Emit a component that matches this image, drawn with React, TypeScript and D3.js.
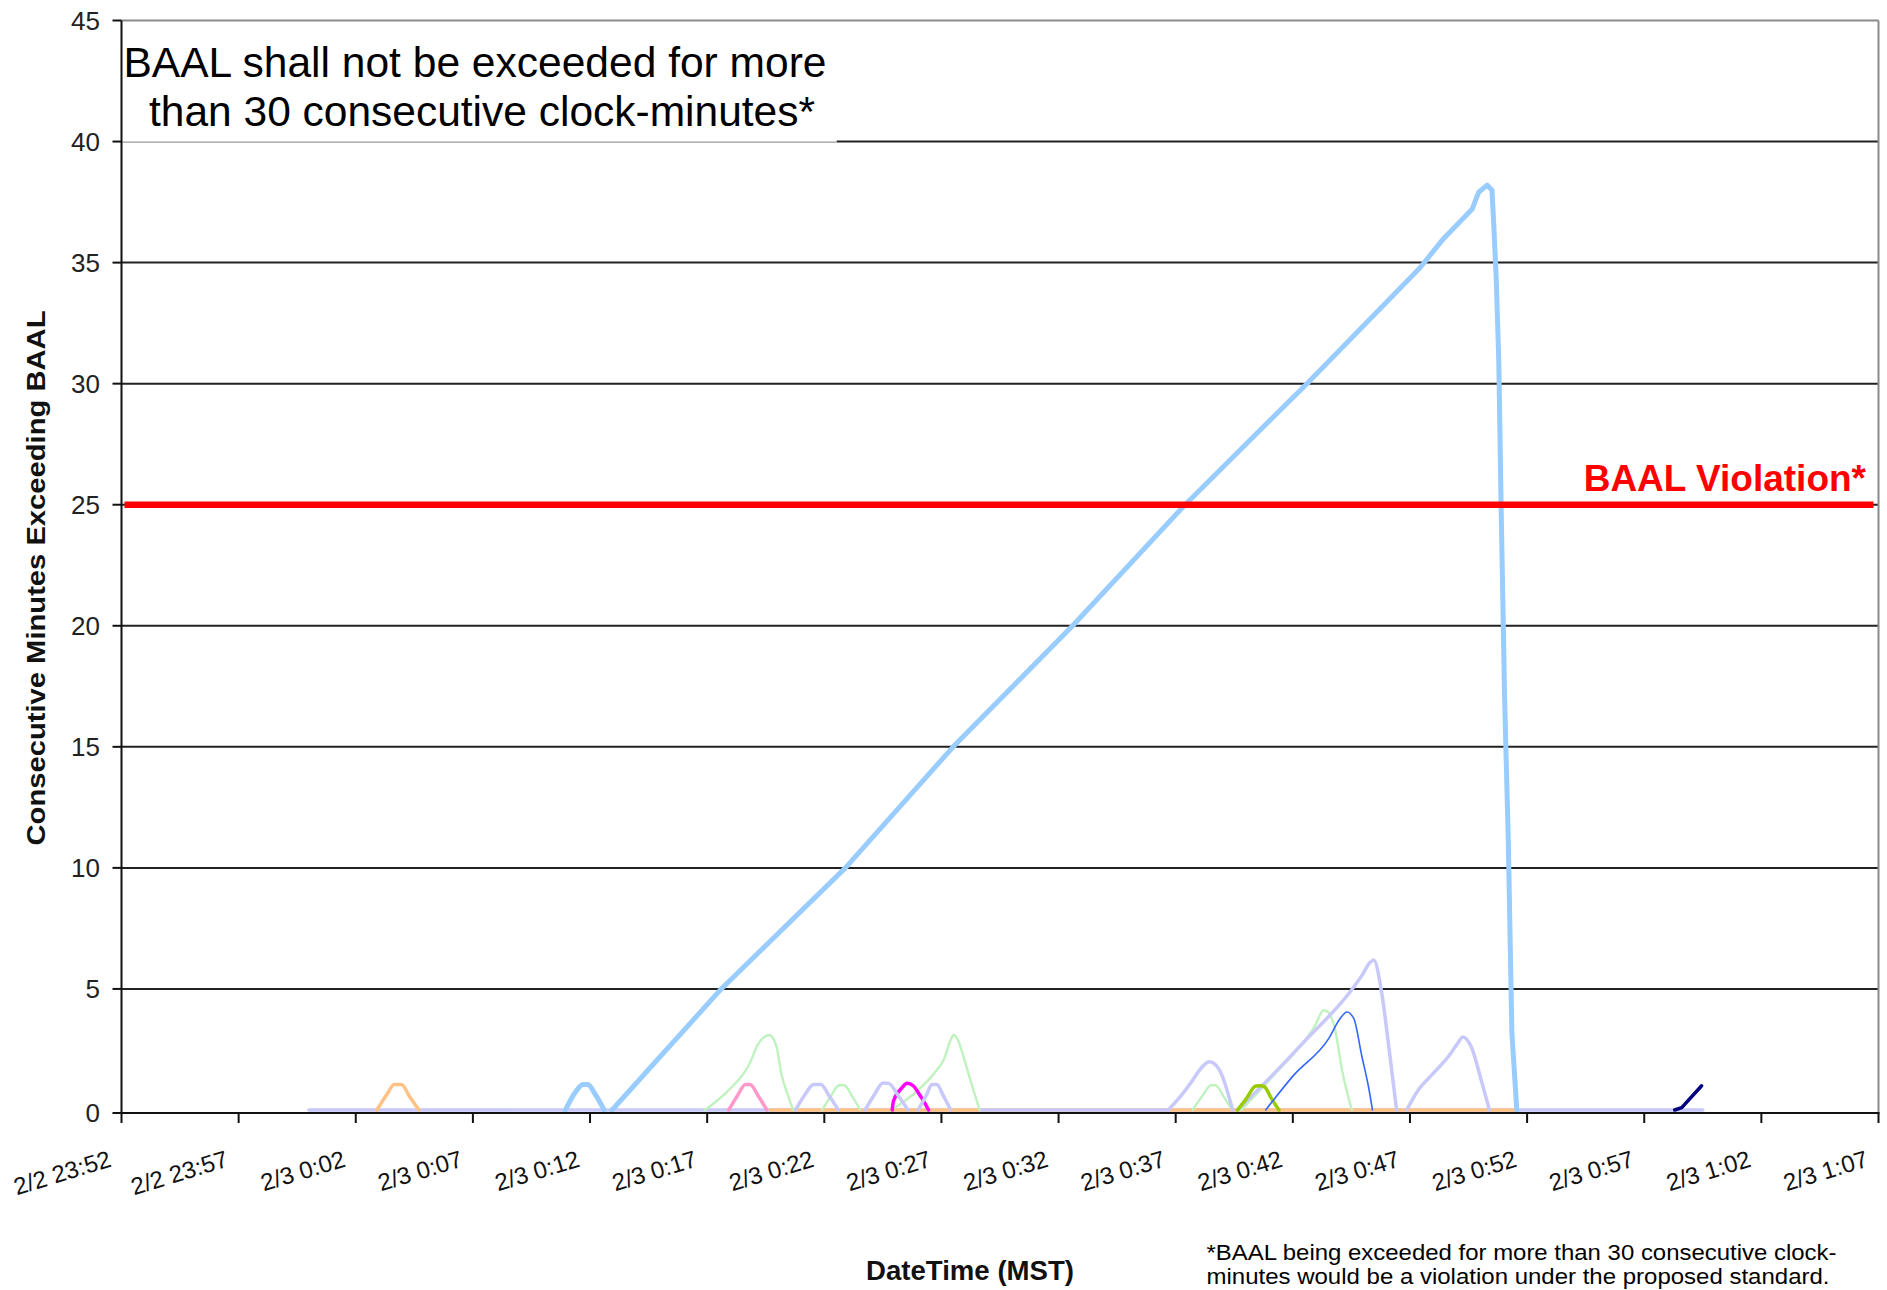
import React from "react";
import * as d3 from "d3";

type Pt = [number, number];

// time values are minutes after midnight of 2/3 (negative = 2/2)
const xTickMinutes = [-8, -3, 2, 7, 12, 17, 22, 27, 32, 37, 42, 47, 52, 57, 62, 67];
const xTickLabels = [
  "2/2 23:52", "2/2 23:57", "2/3 0:02", "2/3 0:07", "2/3 0:12", "2/3 0:17",
  "2/3 0:22", "2/3 0:27", "2/3 0:32", "2/3 0:37", "2/3 0:42", "2/3 0:47",
  "2/3 0:52", "2/3 0:57", "2/3 1:02", "2/3 1:07",
];
const yTicks = [0, 5, 10, 15, 20, 25, 30, 35, 40, 45];
const baalLimit = 25;

const lavenderBase: Pt[] = [[0, 0], [59.5, 0]];
const orangeBase: Pt[] = [[19.7, 0], [51.5, 0]];
const lavenderBase2: Pt[] = [[28.65, 0], [36.6, 0]];

const orangeBump: Pt[] = [[2.9, 0], [3.3, 0.6], [3.65, 1.05], [3.95, 1.05], [4.3, 0.55], [4.7, 0]];
const lightBlueBump: Pt[] = [[10.95, 0], [11.35, 0.7], [11.7, 1.05], [11.9, 1.05], [12.25, 0.6], [12.6, 0]];
const lightBlueRamp: Pt[] = [
  [12.94, 0], [17.6, 5], [22.9, 10], [27.5, 15], [32.6, 20], [37.4, 25], [42.6, 30],
  [47.44, 34.8], [48.44, 36], [49.65, 37.2], [49.93, 37.9], [50.29, 38.2], [50.5, 38],
  [50.57, 36.7], [50.68, 34.4], [50.79, 31], [50.89, 25], [51.04, 17], [51.2, 11],
  [51.35, 3.2], [51.56, 0],
];
const green1: Pt[] = [[16.9, 0], [17.92, 0.82], [18.83, 1.95], [19.14, 2.66], [19.5, 3.05], [19.65, 3.1], [19.95, 2.66], [20.16, 1.53], [20.47, 0.54], [20.67, 0]];
const green2: Pt[] = [[21.9, 0], [22.3, 0.6], [22.62, 1.02], [22.85, 1.02], [23.2, 0.55], [23.53, 0]];
const green3: Pt[] = [[24.86, 0], [25.98, 0.8], [26.7, 1.53], [27.11, 2.1], [27.4, 2.9], [27.52, 3.1], [27.7, 2.9], [27.93, 2.24], [28.23, 1.25], [28.63, 0]];
const green4: Pt[] = [[37.72, 0], [38.15, 0.6], [38.5, 1.02], [38.7, 1.02], [39.05, 0.55], [39.4, 0]];
const green5: Pt[] = [[39.8, 0], [41.2, 1.45], [42.5, 2.85], [42.9, 3.4], [43.32, 4.12], [43.5, 4.05], [43.81, 3.3], [44.1, 1.65], [44.52, 0]];
const pinkBump: Pt[] = [[17.92, 0], [18.3, 0.6], [18.63, 1.05], [18.83, 1.05], [19.2, 0.55], [19.55, 0]];
const magentaBump: Pt[] = [[24.9, 0], [24.95, 0.36], [25.31, 0.91], [25.53, 1.11], [25.81, 0.99], [26.02, 0.7], [26.31, 0.25], [26.45, 0]];
const lavender1: Pt[] = [[20.77, 0], [21.15, 0.6], [21.55, 1.05], [21.85, 1.05], [22.2, 0.6], [22.6, 0]];
const lavender2: Pt[] = [[23.74, 0], [24.15, 0.65], [24.5, 1.12], [24.75, 1.1], [25.15, 0.6], [25.58, 0]];
const lavender3: Pt[] = [[26.0, 0], [26.35, 0.6], [26.6, 1.05], [26.8, 1.05], [27.1, 0.55], [27.4, 0]];
const lavender4: Pt[] = [[36.68, 0], [37.31, 0.69], [37.73, 1.24], [38.02, 1.65], [38.44, 1.99], [38.87, 1.65], [39.43, 0]];
const lavender5: Pt[] = [[39.64, 0], [41.13, 1.44], [42.54, 2.88], [44.38, 4.8], [44.95, 5.56], [45.3, 6.1], [45.45, 6.2], [45.8, 4.8], [46.08, 2.75], [46.43, 0]];
const lavender6: Pt[] = [[46.86, 0], [47.35, 0.82], [47.92, 1.44], [48.63, 2.2], [49.0, 2.7], [49.26, 3.02], [49.62, 2.6], [50.04, 1.24], [50.39, 0]];
const oliveBump: Pt[] = [[39.64, 0], [40.0, 0.45], [40.42, 0.99], [40.6, 1.0], [40.77, 0.97], [41.1, 0.45], [41.41, 0]];
const blueThin: Pt[] = [[40.84, 0], [42.04, 1.44], [43.53, 2.95], [44.02, 3.78], [44.31, 4.05], [44.6, 3.78], [44.95, 2.2], [45.23, 0.96], [45.4, 0]];
const navySeg: Pt[] = [[58.3, 0], [58.6, 0.1], [59.45, 1]];

const C_LAV = "#c8c8fa";
const C_GREEN = "#bff2bf";
const C_ORANGE = "#ffc285";
const C_LBLUE = "#99ccff";

const series: { data: Pt[]; color: string; width: number; smooth: boolean }[] = [
  { data: lavenderBase, color: C_LAV, width: 3.5, smooth: false },
  { data: orangeBase, color: C_ORANGE, width: 3.5, smooth: false },
  { data: lavenderBase2, color: C_LAV, width: 3.5, smooth: false },
  { data: orangeBump, color: C_ORANGE, width: 3.5, smooth: true },
  { data: green1, color: C_GREEN, width: 2.4, smooth: true },
  { data: green2, color: C_GREEN, width: 2.4, smooth: true },
  { data: green3, color: C_GREEN, width: 2.4, smooth: true },
  { data: green4, color: C_GREEN, width: 2.4, smooth: true },
  { data: green5, color: C_GREEN, width: 2.4, smooth: true },
  { data: pinkBump, color: "#ff99cc", width: 3.5, smooth: true },
  { data: magentaBump, color: "#ff00ff", width: 3.5, smooth: true },
  { data: lavender1, color: C_LAV, width: 3.5, smooth: true },
  { data: lavender2, color: C_LAV, width: 3.5, smooth: true },
  { data: lavender3, color: C_LAV, width: 3.5, smooth: true },
  { data: lavender4, color: C_LAV, width: 3.5, smooth: true },
  { data: lavender5, color: C_LAV, width: 3.5, smooth: true },
  { data: lavender6, color: C_LAV, width: 3.5, smooth: true },
  { data: oliveBump, color: "#99cc00", width: 3.5, smooth: true },
  { data: blueThin, color: "#3366ff", width: 1.6, smooth: true },
  { data: navySeg, color: "#000080", width: 3.5, smooth: false },
  { data: lightBlueBump, color: C_LBLUE, width: 5, smooth: true },
  { data: lightBlueRamp, color: C_LBLUE, width: 5, smooth: false },
];

const W = 1887;
const H = 1290;
const L = 121.5, R = 1878.5, T = 20.5, B = 1110;
const AXIS_Y = 1113;

export default function App() {
  const x = d3.scaleLinear().domain([-8, 67]).range([L, R]);
  const y = d3.scaleLinear().domain([0, 45]).range([B, T]);
  const lineSmooth = d3.line<Pt>().x((d) => x(d[0])).y((d) => y(d[1])).curve(d3.curveMonotoneX);
  const lineStraight = d3.line<Pt>().x((d) => x(d[0])).y((d) => y(d[1]));
  const font = "'Liberation Sans', Arial, Helvetica, sans-serif";
  const boxRight = 836.5;

  return (
    <svg width={W} height={H} style={{ position: "absolute", left: 0, top: 0, display: "block", background: "#fff" }}>
      <rect x={0} y={0} width={W} height={H} fill="#fff" />
      {/* gridlines */}
      {yTicks.filter((t) => t > 0 && t < 45).map((t) => (
        <line key={t} x1={t === 40 ? boxRight : L} x2={R} y1={y(t)} y2={y(t)} stroke="#222" strokeWidth={2} />
      ))}
      {/* plot border */}
      <line x1={L} x2={R} y1={T} y2={T} stroke="#8a8a8a" strokeWidth={2} />
      <line x1={R} x2={R} y1={T} y2={AXIS_Y} stroke="#8a8a8a" strokeWidth={2} />
      {/* text box */}
      <rect x={L + 1} y={T + 1.5} width={boxRight - L - 1} height={y(40) - T - 1.5} fill="#fff" />
      <line x1={L} x2={boxRight} y1={y(40) + 0.5} y2={y(40) + 0.5} stroke="#9a9a9a" strokeWidth={1.3} />
      <text x={123.5} y={77} fontFamily={font} fontSize={42} textLength={703} lengthAdjust="spacingAndGlyphs" fill="#000">
        BAAL shall not be exceeded for more
      </text>
      <text x={149} y={126} fontFamily={font} fontSize={42} textLength={666} lengthAdjust="spacingAndGlyphs" fill="#000">
        than 30 consecutive clock-minutes*
      </text>
      {/* series */}
      {series.map((s, i) => (
        <path key={i} d={(s.smooth ? lineSmooth : lineStraight)(s.data) || ""} fill="none" stroke={s.color}
          strokeWidth={s.width} strokeLinejoin="round" strokeLinecap="round" />
      ))}
      {/* BAAL limit */}
      <line x1={L + 3} x2={R - 5} y1={y(baalLimit)} y2={y(baalLimit)} stroke="#ff0000" strokeWidth={6.5} />
      <text x={1866} y={491} textAnchor="end" fontFamily={font} fontWeight="bold" fontSize={37} fill="#ff0000">
        BAAL Violation*
      </text>
      {/* axes */}
      <line x1={L} x2={L} y1={T} y2={AXIS_Y + 1} stroke="#111" strokeWidth={2} />
      <line x1={L} x2={R + 1} y1={AXIS_Y} y2={AXIS_Y} stroke="#111" strokeWidth={2.2} />
      {yTicks.map((t) => (
        <g key={t}>
          <line x1={L - 9} x2={L} y1={t === 0 ? AXIS_Y : y(t)} y2={t === 0 ? AXIS_Y : y(t)} stroke="#111" strokeWidth={2} />
          <text x={100} y={t === 0 ? AXIS_Y : y(t)} dy="0.36em" textAnchor="end" fontFamily={font} fontSize={26} fill="#222">
            {t}
          </text>
        </g>
      ))}
      {xTickMinutes.map((m, i) => (
        <g key={m}>
          <line x1={x(m)} x2={x(m)} y1={AXIS_Y} y2={AXIS_Y + 10} stroke="#111" strokeWidth={2} />
          <text transform={`translate(${x(m) - 9},${1166}) rotate(-17)`} textAnchor="end" fontFamily={font}
            fontSize={24} fill="#111">
            {xTickLabels[i]}
          </text>
        </g>
      ))}
      {/* axis titles */}
      <text transform={`translate(45,578) rotate(-90)`} textAnchor="middle" fontFamily={font} fontWeight="bold"
        fontSize={25} textLength={535} lengthAdjust="spacingAndGlyphs" fill="#111">
        Consecutive Minutes Exceeding BAAL
      </text>
      <text x={970} y={1280} textAnchor="middle" fontFamily={font} fontWeight="bold" fontSize={27}
        textLength={208} lengthAdjust="spacingAndGlyphs" fill="#111">
        DateTime (MST)
      </text>
      {/* footnote */}
      <text x={1206.5} y={1260} fontFamily={font} fontSize={22} textLength={630} lengthAdjust="spacingAndGlyphs" fill="#000">
        *BAAL being exceeded for more than 30 consecutive clock-
      </text>
      <text x={1206.5} y={1284} fontFamily={font} fontSize={22} textLength={623} lengthAdjust="spacingAndGlyphs" fill="#000">
        minutes would be a violation under the proposed standard.
      </text>
    </svg>
  );
}
